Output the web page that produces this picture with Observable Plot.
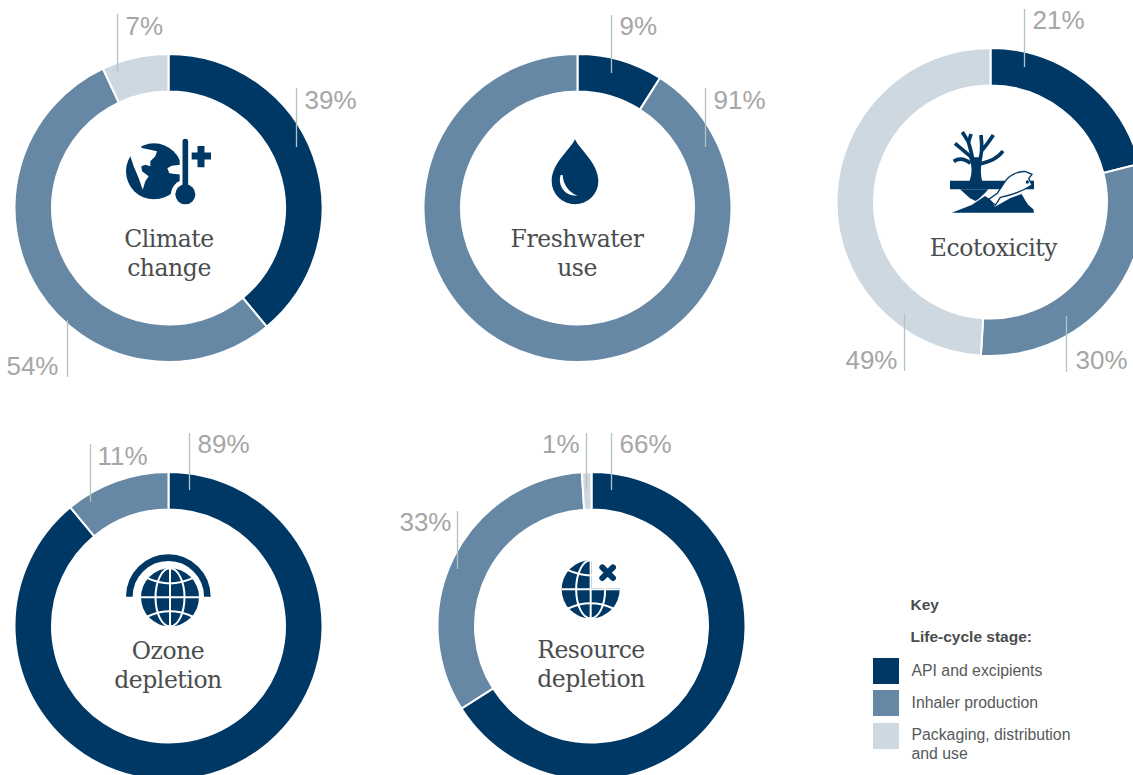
<!DOCTYPE html>
<html>
<head>
<meta charset="utf-8">
<script src="https://cdn.jsdelivr.net/npm/d3@7"></script>
<script src="https://cdn.jsdelivr.net/npm/@observablehq/plot@0.6"></script>
<style>
html,body{margin:0;padding:0;background:#fff;overflow:hidden}
svg{display:block}
.donut-title{letter-spacing:-0.45px}
</style>
</head>
<body>
<div id="chart"></div>
<script>
// ---- data ----
const stages = ["API and excipients", "Inhaler production", "Packaging, distribution\nand use"];
const panels = ["climate", "freshwater", "ecotoxicity", "ozone", "resource"];
const panelTitles = ["Climate\nchange", "Freshwater\nuse", "Ecotoxicity", "Ozone\ndepletion", "Resource\ndepletion"];
const apiValues = [39, 9, 21, 89, 66];
const inhalerValues = [54, 91, 30, 11, 33];
const packagingValues = [7, 0, 49, 0, 1];
const legendHeadings = ["Key", "Life-cycle stage:"];

// ---- styles and layout ----
const stageColors = ["#003865", "#6688a5", "#cdd8e1"];
const centres = [[168.5, 208], [577.5, 208], [990.5, 202], [168.5, 626], [591.5, 626]];
const titleBaselines = [246, 246, 255, 658, 657];
const titleOffsets = [0, -1, 2.5, -1, -1];
const R = 154, r0 = 116.5;
// panel index, stage index, line x, line top, line bottom, text x, baseline, anchor
const leaders = [
  [0, 0, 296, 88, 147, 304, 108, "start"],
  [0, 1, 67, 320, 377, 58, 374, "end"],
  [0, 2, 117, 14, 72, 125, 34, "start"],
  [1, 0, 611, 15, 73, 619, 34, "start"],
  [1, 1, 705, 88, 147, 713, 108, "start"],
  [2, 0, 1024, 9, 67, 1032, 28, "start"],
  [2, 1, 1066, 316, 372, 1075, 368, "start"],
  [2, 2, 904, 314, 371, 897, 368, "end"],
  [3, 0, 189, 433, 490, 197, 452, "start"],
  [3, 1, 90, 444, 502, 97, 464, "start"],
  [4, 0, 611, 433, 490, 619, 452, "start"],
  [4, 1, 457, 511, 569, 451, 530, "end"],
  [4, 2, 586, 433, 490, 579, 452, "end"]
];
const seriesValues = [apiValues, inhalerValues, packagingValues];
const leaderRows = leaders.map(([p, s, x, y1, y2, tx, ty, anchor]) => ({
  x, y1, y2, tx, ty, anchor, label: seriesValues[s][p] + "%"
}));

// wedges: clockwise from twelve o'clock, in stage order
const pie = d3.pie().sort(null).value(d => d.value);
const slices = panels.flatMap((panel, p) => {
  const rows = stages.map((stage, s) => ({panel, stage, value: seriesValues[s][p]}));
  return pie(rows).filter(a => a.value > 0).map(a => ({
    panel, stage: a.data.stage, value: a.value,
    startAngle: a.startAngle, endAngle: a.endAngle,
    cx: centres[p][0], cy: centres[p][1]
  }));
});
const titleRows = panels.map((panel, p) => ({
  title: panelTitles[p], x: centres[p][0] + titleOffsets[p], y: titleBaselines[p] + (panelTitles[p].includes("\n") ? 29 : 0)
}));

const donuts = (index, scales, values, dims, ctx) => {
  const g = d3.select(ctx.document.createElementNS("http://www.w3.org/2000/svg", "g"));
  const arc = d3.arc().innerRadius(r0).outerRadius(R);
  for (const i of index) {
    g.append("path")
      .attr("transform", `translate(${values.x[i]},${values.y[i]})`)
      .attr("d", arc(slices[i]))
      .attr("fill", values.fill[i])
      .attr("stroke", "#fff")
      .attr("stroke-width", 2);
  }
  return g.node();
};

// ---- pictograms, in a local 3× grid anchored relative to each centre ----
const ink = "#003865";
const worldGrid = (cx, cy, rr) => [
  {t: "path", d: `M${cx-rr} ${cy}H${cx+rr}`, stroke: "#fff", w: 6},
  {t: "path", d: `M${cx} ${cy-rr}V${cy+rr}`, stroke: "#fff", w: 6},
  {t: "ellipse", cx, cy, rx: rr * 0.5, ry: rr, stroke: "#fff", w: 6},
  {t: "path", d: `M${cx-rr*0.78} ${cy-rr*0.66}Q${cx} ${cy-rr*0.3} ${cx+rr*0.78} ${cy-rr*0.66}`, stroke: "#fff", w: 6},
  {t: "path", d: `M${cx-rr*0.78} ${cy+rr*0.66}Q${cx} ${cy+rr*0.3} ${cx+rr*0.78} ${cy+rr*0.66}`, stroke: "#fff", w: 6}
];
const icons = {
  climate: {ox: 110 - 168.5, oy: 125 - 208, parts: [
    {t: "circle", cx: 132, cy: 139, r: 84, fill: ink},
    {t: "path", fill: "#fff", d: "M61 94L71 124L86 159L98 194L106 169L116 154L96 139L94 124L106 119L121 124L121 109L136 94L141 79L96 69L88 61L50 50L40 80Z"},
    {t: "path", fill: "#fff", d: "M225 118L185 122L172 130L178 145L195 147L225 150Z"},
    {t: "path", d: "M226 50V200", stroke: "#fff", w: 34},
    {t: "circle", cx: 226, cy: 208, r: 43, fill: "#fff"},
    {t: "path", d: "M226 50V200", stroke: ink, w: 17, cap: "round"},
    {t: "circle", cx: 226, cy: 208, r: 30, fill: ink},
    {t: "path", d: "M245 93H303M273 63V127", stroke: ink, w: 21}
  ]},
  freshwater: {ox: 530 - 577.5, oy: 125 - 208, parts: [
    {t: "path", fill: ink, d: "M135 43C120 75 65 115 65 168A70 70 0 0 0 205 168C205 115 150 75 135 43Z"},
    {t: "path", fill: "#fff", d: "M92 150C82 182 105 214 142 212C118 202 100 182 98 150Z"}
  ]},
  ecotoxicity: {ox: 935 - 990.5, oy: 120 - 202, parts: [
    {t: "path", d: "M45 195H297", stroke: ink, w: 26},
    {t: "path", fill: ink, d: "M103 185C112 160 112 140 102 112L142 112C135 150 138 170 142 185Z"},
    {t: "path", fill: ink, d: "M75 208H160C148 222 135 235 122 243L105 235Z"},
    {t: "path", fill: "none", stroke: ink, w: 11, d: "M115 130C112 105 106 85 100 65L82 36M100 68L108 42"},
    {t: "path", fill: "none", stroke: ink, w: 11, d: "M110 112C92 98 78 85 60 70"},
    {t: "path", fill: "none", stroke: ink, w: 11, d: "M106 130C88 115 72 114 56 124"},
    {t: "path", fill: "none", stroke: ink, w: 11, d: "M132 125C142 105 142 80 138 45M140 92C155 75 165 60 175 45"},
    {t: "path", fill: "none", stroke: ink, w: 11, d: "M134 132C155 126 185 120 204 93"},
    {t: "path", fill: ink, d: "M50 278L110 255L150 228L165 238L180 260L225 235L260 222L270 240L280 255L295 268L297 278Z"},
    {t: "path", fill: "#fff", stroke: ink, w: 4, d: "M210 185C222 165 252 152 272 155L291 163L281 176L291 195C262 214 226 226 196 232L181 256L161 238L187 220C193 210 200 200 210 185Z"},
    {t: "circle", cx: 277, cy: 186, r: 5, fill: ink}
  ]},
  ozone: {ox: 115 - 168.5, oy: 550 - 626, parts: [
    {t: "path", fill: "none", stroke: ink, w: 20, d: "M43 140A117 117 0 0 1 277 140"},
    {t: "circle", cx: 165, cy: 142, r: 87, fill: ink},
    ...worldGrid(165, 142, 87)
  ]},
  resource: {ox: 545 - 591.5, oy: 550 - 626, parts: [
    {t: "circle", cx: 137, cy: 118, r: 87, fill: ink},
    ...worldGrid(137, 118, 87),
    {t: "path", fill: "#fff", d: "M140 25H235V115H140Z"},
    {t: "path", d: "M172 52L204 84M204 52L172 84", stroke: ink, w: 18, cap: "round"}
  ]}
};

const drawIcons = (index, scales, values, dims, ctx) => {
  const root = d3.select(ctx.document.createElementNS("http://www.w3.org/2000/svg", "g"));
  for (const i of index) {
    const ic = icons[panels[i]];
    const g = root.append("g")
      .attr("transform", `translate(${values.x[i] + ic.ox},${values.y[i] + ic.oy}) scale(${1/3})`);
    for (const p of ic.parts) {
      const el = g.append(p.t);
      for (const k of ["d", "cx", "cy", "r", "rx", "ry"]) if (p[k] !== undefined) el.attr(k, p[k]);
      el.attr("fill", p.fill ?? "none");
      if (p.stroke) el.attr("stroke", p.stroke).attr("stroke-width", p.w);
      if (p.cap) el.attr("stroke-linecap", p.cap);
    }
  }
  return root.node();
};

// ---- legend rows ----
const swatchTops = [658, 690, 723];
const legendRows = stages.map((stage, i) => ({
  stage, x1: 873, x2: 899, y1: swatchTops[i], y2: swatchTops[i] + 26
}));
const legendBaselines = [675, 707, 758];

const sans = "'Liberation Sans', Arial, sans-serif";
const percent = {x: "tx", y: "ty", text: "label", lineAnchor: "bottom", fontSize: 26, fontFamily: sans, fill: "#a6a6a6"};
const chart = Plot.plot({
  width: 1133, height: 775,
  margin: 0,
  style: {background: "#fff"},
  x: {domain: [0, 1133], range: [0, 1133], axis: null},
  y: {domain: [0, 775], range: [0, 775], axis: null},
  color: {domain: stages, range: stageColors},
  marks: [
    Plot.dot(slices, {x: "cx", y: "cy", fill: "stage", r: R, render: donuts}),
    Plot.ruleX(leaderRows, {x: "x", y1: "y1", y2: "y2", stroke: "#b2c4c2", strokeWidth: 1.3}),
    Plot.text(leaderRows.filter(d => d.anchor === "start"), {...percent, textAnchor: "start"}),
    Plot.text(leaderRows.filter(d => d.anchor === "end"), {...percent, textAnchor: "end"}),
    Plot.dot(panels, {x: (d, i) => centres[i][0], y: (d, i) => centres[i][1], r: 1, render: drawIcons}),
    Plot.text(titleRows, {x: "x", y: "y", text: "title", lineAnchor: "bottom", lineHeight: 29 / 23.5, fontSize: 23.5, fontFamily: "'DejaVu Serif', serif", fill: "#4a4d4e", className: "donut-title"}),
    Plot.rect(legendRows, {x1: "x1", x2: "x2", y1: "y1", y2: "y2", fill: "stage"}),
    Plot.text(legendHeadings, {x: 910, y: (d, i) => [609, 641][i], lineAnchor: "bottom", textAnchor: "start", fontSize: 15.5, fontWeight: "bold", fontFamily: sans, fill: "#4a4d4e"}),
    Plot.text(stages, {x: 911, y: (d, i) => legendBaselines[i], lineAnchor: "bottom", textAnchor: "start", lineHeight: 19 / 15.8, fontSize: 15.8, fontFamily: sans, fill: "#55595b"})
  ]
});
document.getElementById("chart").append(chart);
</script>
</body>
</html>
